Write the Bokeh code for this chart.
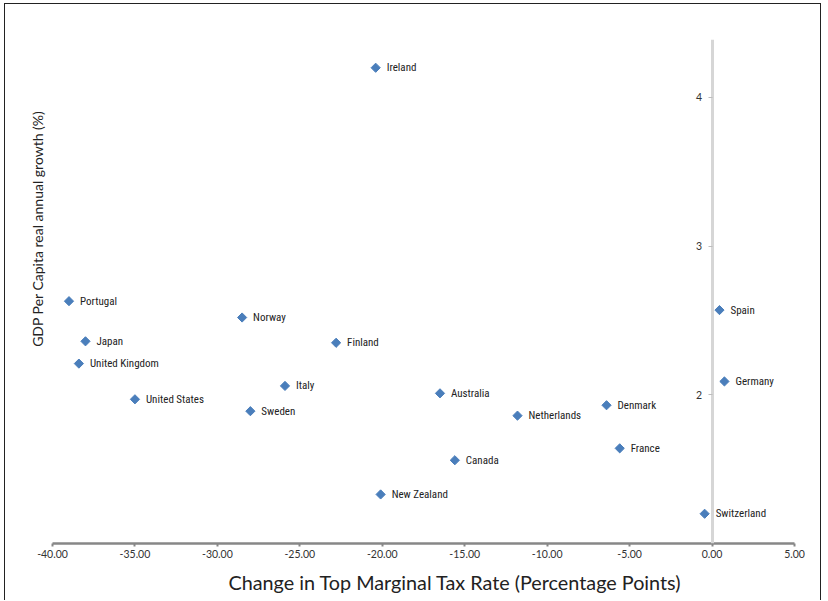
from bokeh.plotting import figure
from bokeh.models import Range1d, FixedTicker, NumeralTickFormatter, LinearAxis, ColumnDataSource, Title
from bokeh.core.properties import value
from bokeh.embed import file_html
from bokeh.resources import INLINE

countries = ["Ireland", "Portugal", "Norway", "Japan", "United Kingdom", "Italy",
             "United States", "Sweden", "Finland", "Australia", "Netherlands",
             "Denmark", "France", "Canada", "New Zealand", "Spain", "Germany",
             "Switzerland"]
tax_change = [-20.4, -39.0, -28.5, -38.0, -38.4, -25.9, -35.0, -28.0, -22.8,
              -16.5, -11.8, -6.4, -5.6, -15.6, -20.1, 0.45, 0.75, -0.45]
gdp_growth = [4.20, 2.63, 2.52, 2.36, 2.21, 2.06, 1.97, 1.89, 2.35, 2.01, 1.86,
              1.93, 1.64, 1.56, 1.33, 2.57, 2.09, 1.20]
x_ticks = [-40, -35, -30, -25, -20, -15, -10, -5, 0, 5]
y_ticks = [2, 3, 4]

x_title = "Change in Top Marginal Tax Rate (Percentage Points)"
y_title = "GDP Per Capita real annual growth (%)"

src = ColumnDataSource(dict(x=tax_change, y=gdp_growth, name=countries))

p = figure(width=817, height=597, x_range=Range1d(-40, 5), y_range=Range1d(1, 4.39),
           output_backend="svg", toolbar_location=None, y_axis_location=None,
           min_border_left=47, min_border_right=28, min_border_top=35, min_border_bottom=57)
p.outline_line_color = None
p.xgrid.visible = False
p.ygrid.visible = False
p.background_fill_color = "white"
p.border_fill_color = "white"
p.styles = {"margin-left": "3.5px", "margin-top": "2.5px",
            "border-left": "1.5px solid #222", "border-top": "1.5px solid #222",
            "border-right": "1.5px solid #222"}

# x axis
xa = p.xaxis[0]
xa.ticker = FixedTicker(ticks=x_ticks)
xa.formatter = NumeralTickFormatter(format="0.00")
xa.axis_line_color = "#878787"
xa.axis_line_width = 2.5
xa.major_tick_line_color = "#878787"
xa.major_tick_line_width = 2
xa.major_tick_out = 3
xa.major_tick_in = 0
xa.minor_tick_line_color = None
xa.major_label_standoff = 3
xa.major_label_text_font = "Lato"
xa.major_label_text_font_size = "10.5px"
xa.major_label_text_color = "#333333"

# y axis placed at x = 0
ya = LinearAxis(fixed_location=0, ticker=FixedTicker(ticks=y_ticks))
ya.axis_line_color = "#d6d6d6"
ya.axis_line_width = 3
ya.major_tick_line_color = "#bdbdbd"
ya.major_tick_out = 4
ya.major_tick_in = 0
ya.minor_tick_line_color = None
ya.major_label_standoff = 6
ya.major_label_text_font = "Lato"
ya.major_label_text_font_size = "10.5px"
ya.major_label_text_color = "#333333"
p.add_layout(ya, "left")

p.scatter("x", "y", source=src, marker="square", angle=0.7854, size=6.5,
          fill_color="#4a7ebb", line_color="#4a7ebb")
p.text("x", "y", text="name", source=src, x_offset=11, text_baseline="middle",
       text_font=value("'Roboto Condensed', Roboto"), text_font_size="11px",
       text_color="#222222")

p.add_layout(Title(text=x_title, align="left", offset=176, standoff=15,
                   text_font="Lato", text_font_size="19.8px", text_font_style="normal",
                   text_color="#222222"), "below")
p.add_layout(Title(text=y_title, align="right", offset=71, standoff=14,
                   text_font="Lato", text_font_size="14px", text_font_style="normal",
                   text_color="#222222"), "left")

open("out.html", "w").write(file_html(p, INLINE))
